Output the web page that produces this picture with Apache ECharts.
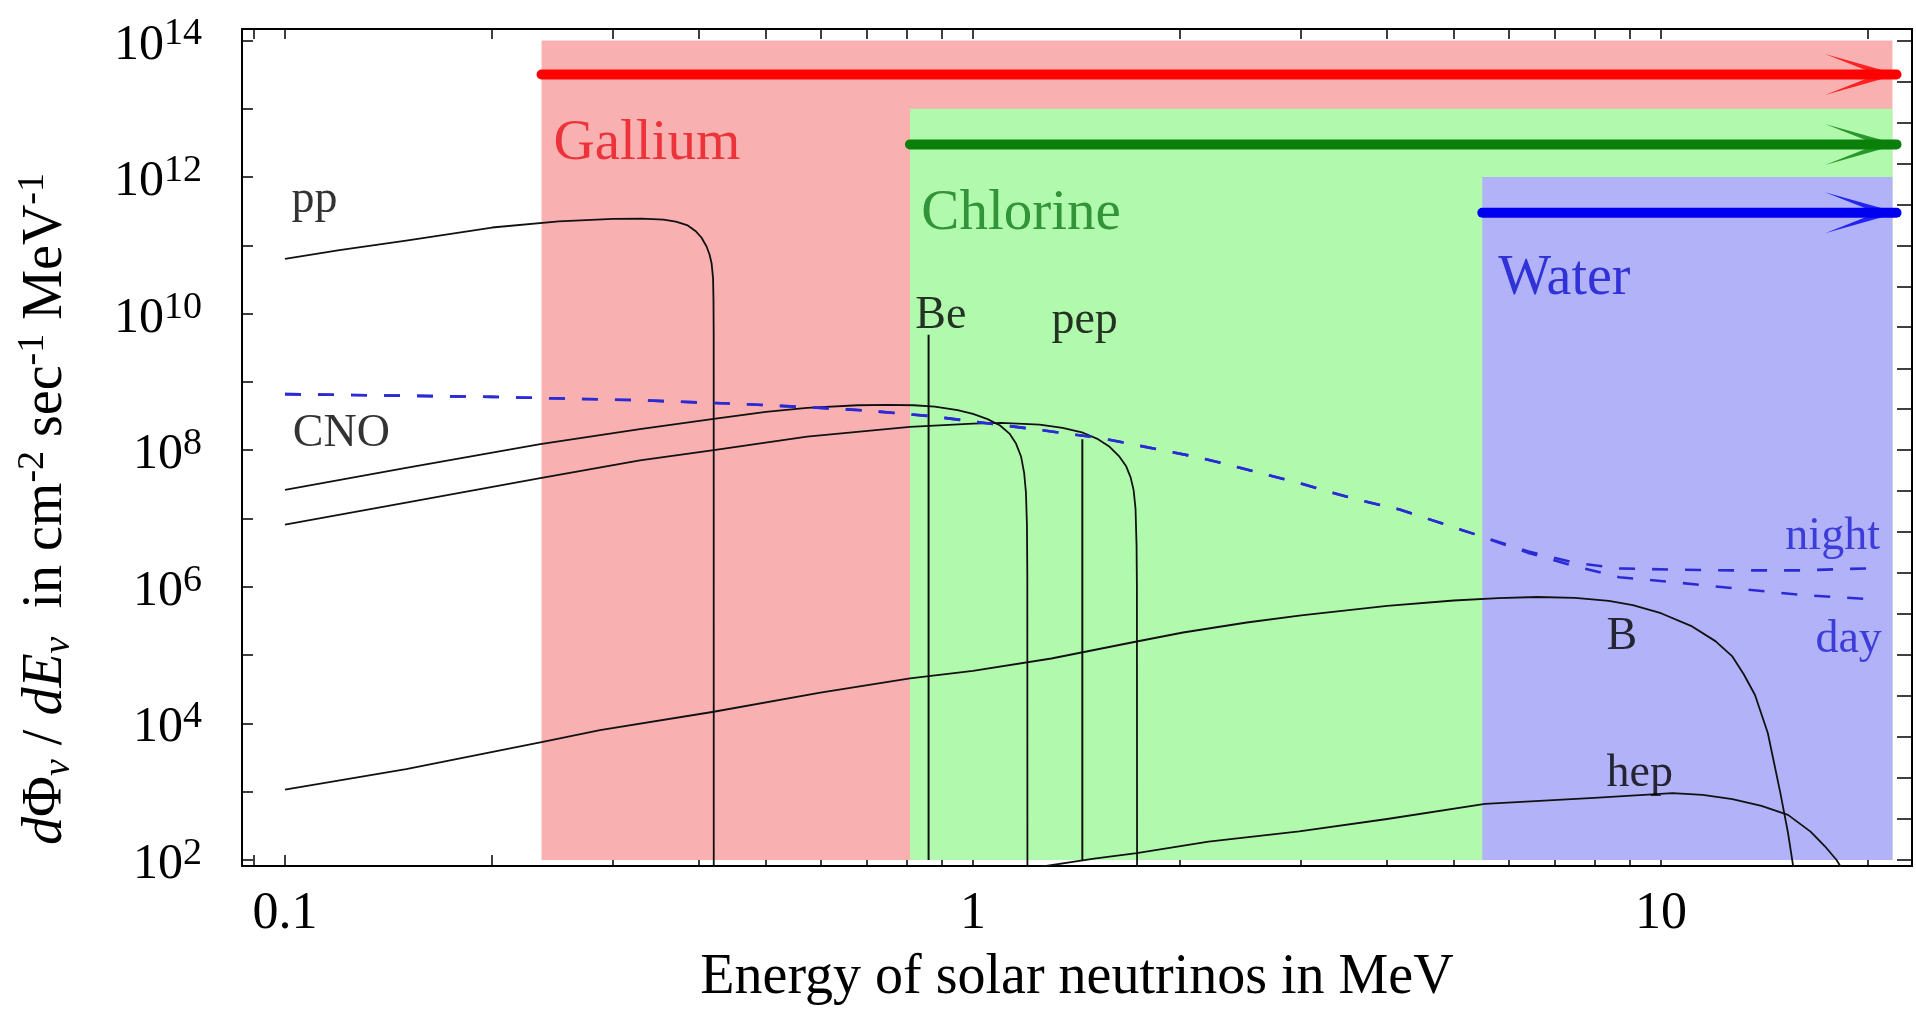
<!DOCTYPE html>
<html><head><meta charset="utf-8">
<script src="https://cdn.jsdelivr.net/npm/echarts@6/dist/echarts.min.js"></script>
<style>html,body{margin:0;padding:0;background:#fff}#c{width:1916px;height:1014px}</style>
</head><body><div id="c"></div>
<script>
// ---------------- axis ticks ----------------
const xTicks = [0.09, 0.1, 0.2, 0.3, 0.4, 0.5, 0.6, 0.7, 0.8, 0.9, 1, 2, 3, 4, 5, 6, 7, 8, 9, 10, 20];
const xTickLabels = [0.1, 1, 10];
const yTicks = [1e2, 1e3, 1e4, 1e5, 1e6, 1e7, 1e8, 1e9, 1e10, 1e11, 1e12, 1e13, 1e14];
const yTickLabels = [1e2, 1e4, 1e6, 1e8, 1e10, 1e12, 1e14];
const yRightTicks = [1e2, 3.98e2, 1.58e3, 6.31e3, 2.51e4, 1e5, 3.98e5, 1.58e6, 6.31e6, 2.51e7, 1e8,
  3.98e8, 1.58e9, 6.31e9, 2.51e10, 1e11, 3.98e11, 1.58e12, 6.31e12, 2.51e13, 1e14];
const xMin = 0.0866, xMax = 23.17;
const yMin = 81.6, yMax = 1.468e14;

// ---------------- detectors ----------------
const detectorNames = ['Gallium', 'Chlorine', 'Water'];
const detectorThresholds = [0.236, 0.81, 5.5];
const detectorTops = [1e14, 1e13, 1e12];
const detectorArrowLevels = [3.16e13, 3.0e12, 3.0e11];
const rangeBottom = 1e2;
const rangeEnd = 21.7;
const arrowTip = 22;

// ---------------- spectra [E (MeV), flux] ----------------
const pp = [[0.1,6.31e10],[0.12,8.51e10],[0.15,1.17e11],[0.2,1.82e11],[0.25,2.24e11],[0.3,2.43e11],
  [0.33,2.46e11],[0.355,2.38e11],[0.37,2.22e11],[0.385,1.95e11],[0.395,1.62e11],[0.403,1.3e11],
  [0.41,9.6e10],[0.414,7.4e10],[0.417,5.4e10],[0.419,3.3e10],[0.4196,1.6e10],[0.4199,5e9],[0.42,30]];
const be7 = [[0.862,1e2],[0.862,4.9e9]];
const pep = [[1.442,1e2],[1.442,1.45e8]];
const n13 = [[0.1,2.63e7],[0.15,5.5e7],[0.235,1.23e8],[0.328,2.04e8],[0.42,2.88e8],[0.5,3.63e8],
  [0.574,4.17e8],[0.68,4.55e8],[0.75,4.6e8],[0.82,4.55e8],[0.88,4.35e8],[0.95,3.85e8],[1.0,3.4e8],
  [1.05,2.85e8],[1.095,2.3e8],[1.13,1.75e8],[1.155,1.25e8],[1.175,8.0e7],[1.187,4.6e7],[1.194,2.4e7],
  [1.198,8e6],[1.1995,1.5e6],[1.2,30]];
const o15 = [[0.1,8.13e6],[0.15,1.7e7],[0.235,3.89e7],[0.328,7.08e7],[0.42,1.0e8],[0.574,1.58e8],
  [0.81,2.19e8],[1.0,2.45e8],[1.1,2.51e8],[1.25,2.36e8],[1.35,2.12e8],[1.445,1.8e8],[1.52,1.45e8],
  [1.58,1.12e8],[1.63,8.2e7],[1.67,5.8e7],[1.695,4.0e7],[1.712,2.6e7],[1.723,1.4e7],[1.729,4e6],
  [1.731,1e6],[1.732,30]];
const b8 = [[0.1,1.07e3],[0.15,2.14e3],[0.237,5.37e3],[0.287,7.94e3],[0.42,1.48e4],[0.6,2.82e4],
  [0.81,4.57e4],[1.0,5.89e4],[1.3,8.91e4],[1.73,1.58e5],[2.02,2.14e5],[2.5,3.0e5],[3.0,3.8e5],
  [4.0,5.25e5],[5.0,6.3e5],[5.8,6.8e5],[6.6,7.08e5],[7.5,6.9e5],[8.4,6.2e5],[9.1,5.4e5],[10.0,4.1e5],
  [11.1,2.63e5],[12.0,1.6e5],[12.7,9.55e4],[13.2,5.2e4],[13.7,2.6e4],[14.3,7.24e3],[14.9,1.0e3],
  [15.3,250],[15.6,70.8]];
const hep = [[1.25,79],[1.5,105],[1.73,126],[2.2,186],[2.98,263],[4.0,398],[5.55,661],[8.0,813],
  [10.4,955],[11.5,900],[12.7,780],[14.0,620],[15.3,457],[16.5,260],[17.3,160],[18.0,100],[18.3,76]];
const night = [[0.1,6.61e8],[0.2,6.03e8],[0.33,5.37e8],[0.45,4.79e8],[0.574,4.27e8],[0.7,3.8e8],
  [0.866,3.16e8],[1.0,2.63e8],[1.2,2.09e8],[1.53,1.51e8],[2.14,7.76e7],[2.98,3.31e7],[3.54,2.0e7],
  [4.17,1.35e7],[5.4,5.75e6],[6.4,3.31e6],[7.5,2.24e6],[8.7,1.86e6],[10.4,1.78e6],[12.7,1.74e6],
  [16,1.74e6],[20,1.86e6]];
const day = [[0.1,6.61e8],[0.2,6.03e8],[0.33,5.37e8],[0.45,4.79e8],[0.574,4.27e8],[0.7,3.8e8],
  [0.866,3.16e8],[1.0,2.63e8],[1.2,2.09e8],[1.53,1.51e8],[2.14,7.76e7],[2.98,3.31e7],[3.54,2.0e7],
  [4.17,1.35e7],[5.4,5.75e6],[6.4,3.16e6],[7.5,2.0e6],[8.7,1.38e6],[10.4,1.17e6],[12.7,9.55e5],
  [16,7.59e5],[20,6.61e5]];

// ---------------- annotations: text, [E, flux] ----------------
const annotationTexts = ['Gallium','Chlorine','Water','pp','CNO','Be','pep','night','day','B','hep'];
const annotationAnchors = [[0.2452,3.04e12],[0.840,2.87e11],[5.79,3.21e10],[0.102,4.69e11],[0.1025,1.73e8],
  [0.823,9.2e9],[1.298,7.8e9],[15.14,5.45e6],[16.74,1.64e5],[8.32,1.84e5],[8.32,1.79e3]];

// ---------------- styles ----------------
const FONT = '"Liberation Serif","Times New Roman",Times,serif';
const rangeColors = ['#F9B0B0', '#B1FAAD', '#B2B2F9'];
const arrowColors = ['#FF0000', '#0A800A', '#0000F0'];
const annotationColors = ['#E8141C','#117A1A','#1010D0','#000','#000','#000','#000','#1E1ED0','#1E1ED0','#000','#000'];
const annotationSizes = [57,57,56,46,46,46,46,46,46,46,46];

const series = [];
series.push({
  type: 'custom', name: 'ranges', z: 1, silent: true,
  encode: {x: [0, 1], y: [2, 3]},
  data: detectorNames.map((n, i) => [detectorThresholds[i], rangeEnd, rangeBottom, detectorTops[i]]),
  renderItem: function (params, api) {
    const p0 = api.coord([api.value(0), api.value(3)]);
    const p1 = api.coord([api.value(1), api.value(2)]);
    return {type: 'rect', z2: params.dataIndex,
      shape: {x: p0[0], y: p0[1], width: p1[0] - p0[0], height: p1[1] - p0[1]},
      style: {fill: rangeColors[params.dataIndex]}};
  }
});
const blackLine = (name, data, w) => ({
  type: 'line', name, data, z: 3, showSymbol: false, symbol: 'none', silent: true, smooth: false,
  lineStyle: {color: '#111', width: w || 1.8, join: 'round'}
});
series.push(blackLine('pp', pp));
series.push(blackLine('Be', be7, 2));
series.push(blackLine('pep', pep, 2));
series.push(blackLine('13N', n13));
series.push(blackLine('15O', o15));
series.push(blackLine('B', b8));
series.push(blackLine('hep', hep));
[['night', night], ['day', day]].forEach(([n, d]) => series.push({
  type: 'line', name: n, data: d, z: 3, showSymbol: false, symbol: 'none', silent: true, smooth: false,
  lineStyle: {color: '#2B2BD6', width: 2.6, type: [16, 17]}
}));
detectorNames.forEach((n, i) => {
  series.push({
    type: 'line', name: n + ' arrow', z: 4, showSymbol: false, symbol: 'none', silent: true,
    data: [[detectorThresholds[i], detectorArrowLevels[i]], [arrowTip, detectorArrowLevels[i]]],
    lineStyle: {color: arrowColors[i], width: 10, cap: 'round'}
  });
  series.push({
    type: 'scatter', name: n + ' head', z: 5, silent: true,
    data: [[arrowTip, detectorArrowLevels[i]]],
    symbol: 'path://M73,20.5 L0,0 L52,20.5 L0,41 Z', symbolSize: [73, 41], symbolOffset: [-35, 0],
    itemStyle: {color: arrowColors[i]}
  });
});
series.push({
  type: 'scatter', name: 'labels', z: 6, silent: true, symbolSize: 1,
  itemStyle: {color: 'rgba(0,0,0,0)'},
  label: {show: true, position: 'right', distance: 0, fontFamily: FONT, color: '#000'},
  data: annotationTexts.map((t, i) => ({
    value: annotationAnchors[i],
    label: {show: true, position: 'right', distance: 0,
      formatter: '{t|' + t + '}',
      rich: {t: {fontFamily: FONT, fontSize: annotationSizes[i], color: annotationColors[i]}}}
  }))
});

const axisLineStyle = {show: true, lineStyle: {color: '#000', width: 2}};
const option = {
  animation: false,
  backgroundColor: '#fff',
  textStyle: {fontFamily: FONT},
  grid: {left: 242, right: 4, top: 29, bottom: 148, containLabel: false},
  xAxis: [{
    type: 'log', min: xMin, max: xMax, position: 'bottom',
    axisLine: axisLineStyle, splitLine: {show: false}, minorTick: {show: false},
    axisTick: {show: true, inside: true, length: 11, customValues: xTicks, lineStyle: {color: '#000', width: 1.5}},
    axisLabel: {show: true, customValues: xTickLabels, margin: 22, color: '#000', fontSize: 52, fontFamily: FONT,
      formatter: v => String(+v.toPrecision(3))},
    name: 'Energy of solar neutrinos in MeV', nameLocation: 'middle', nameGap: 84,
    nameTextStyle: {fontSize: 56, fontFamily: FONT, color: '#000'}
  }, {
    type: 'log', min: xMin, max: xMax, position: 'top',
    axisLine: axisLineStyle, splitLine: {show: false}, minorTick: {show: false},
    axisTick: {show: true, inside: true, length: 10, customValues: xTicks, lineStyle: {color: '#000', width: 1.5}},
    axisLabel: {show: false}
  }],
  yAxis: [{
    type: 'log', min: yMin, max: yMax, position: 'left',
    axisLine: axisLineStyle, splitLine: {show: false}, minorTick: {show: false},
    axisTick: {show: true, inside: true, length: 11, customValues: yTicks, lineStyle: {color: '#000', width: 1.5}},
    axisLabel: {show: true, customValues: yTickLabels, margin: 40, color: '#000', fontFamily: FONT,
      padding: [10, 0, 0, 0],
      formatter: v => '{b|10}{s|' + Math.round(Math.log10(v)) + '}',
      rich: {
        b: {fontSize: 50, fontFamily: FONT, color: '#000', lineHeight: 60},
        s: {fontSize: 38, fontFamily: FONT, color: '#000', lineHeight: 20, verticalAlign: 'top'}
      }}
  }, {
    type: 'log', min: yMin, max: yMax, position: 'right',
    axisLine: axisLineStyle, splitLine: {show: false}, minorTick: {show: false},
    axisTick: {show: true, inside: true, length: 15, customValues: yRightTicks, lineStyle: {color: '#000', width: 1.5}},
    axisLabel: {show: false}
  }],
  graphic: [{
    type: 'text', x: 46, y: 509, rotation: Math.PI / 2, silent: true,
    style: {
      text: '{i|d}{n|Φ}{sub|ν}{n| / }{i|dE}{sub|ν}{n|  in cm}{sup|-2}{n| sec}{sup|-1}{n| MeV}{sup|-1}',
      align: 'center', verticalAlign: 'middle', fill: '#000',
      rich: {
        n: {fontSize: 56, fontFamily: FONT, lineHeight: 64},
        i: {fontSize: 56, fontFamily: FONT, fontStyle: 'italic', lineHeight: 64},
        sub: {fontSize: 38, fontFamily: FONT, fontStyle: 'italic', lineHeight: 46, verticalAlign: 'bottom'},
        sup: {fontSize: 38, fontFamily: FONT, lineHeight: 18, verticalAlign: 'top'}
      }
    }
  }],
  series: series
};
const chart = echarts.init(document.getElementById('c'), null, {renderer: 'canvas'});
chart.setOption(option);
</script>
</body></html>
